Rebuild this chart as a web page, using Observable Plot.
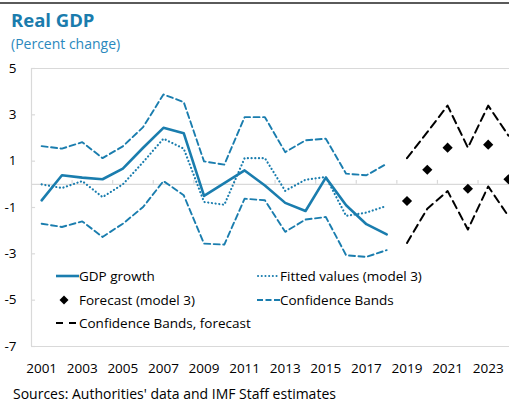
<!DOCTYPE html>
<html>
<head>
<meta charset="utf-8">
<script src="https://cdn.jsdelivr.net/npm/d3@7"></script>
<script src="https://cdn.jsdelivr.net/npm/@observablehq/plot@0.6"></script>
<style>
  html, body { margin: 0; padding: 0; background: #fff; }
  body { width: 509px; height: 402px; overflow: hidden; position: relative; font-family: "Open Sans", sans-serif; }
  .topline { position: absolute; left: 0; top: 2px; width: 509px; height: 1.5px; background: #5a5a5a; }
  .title { position: absolute; left: 11px; top: 8.5px; font-size: 18.5px; line-height: 22px; font-weight: 700; color: #1a7cad; }
  .subtitle { position: absolute; left: 11px; top: 35px; font-size: 14px; line-height: 18px; color: #2a88bd; }
  #chart { position: absolute; left: 0; top: 58px; }
  .caption { position: absolute; left: 13px; top: 387px; font-size: 14px; line-height: 14px; color: #000; white-space: nowrap; }
  .legend { position: absolute; font-size: 13.5px; color: #000; }
  .item { position: absolute; display: flex; align-items: center; height: 20px; white-space: nowrap; }
  .item svg { width: 24px; height: 20px; margin-right: 0px; }
</style>
</head>
<body>
<div class="topline"></div>
<div class="title">Real GDP</div>
<div class="subtitle">(Percent change)</div>
<div id="chart"></div>
<div class="legend" id="legend"></div>
<div class="caption">Sources: Authorities' data and IMF Staff estimates</div>
<script>
// ---- data ----
const histYears = [2001, 2002, 2003, 2004, 2005, 2006, 2007, 2008, 2009, 2010, 2011, 2012, 2013, 2014, 2015, 2016, 2017, 2018];
const gdpGrowth = [-0.69, 0.39, 0.29, 0.22, 0.68, 1.58, 2.44, 2.21, -0.5, 0.05, 0.6, -0.05, -0.8, -1.15, 0.29, -0.9, -1.72, -2.16];
const fittedValues = [0.0, -0.16, 0.14, -0.55, 0.0, 0.96, 1.97, 1.54, -0.76, -0.88, 1.13, 1.13, -0.28, 0.2, 0.32, -1.36, -1.22, -0.93];
const bandUpper = [1.65, 1.54, 1.82, 1.13, 1.64, 2.47, 3.88, 3.55, 0.99, 0.85, 2.9, 2.9, 1.39, 1.9, 1.97, 0.46, 0.39, 0.89];
const bandLower = [-1.7, -1.84, -1.6, -2.27, -1.7, -0.98, 0.14, -0.47, -2.56, -2.6, -0.62, -0.69, -2.05, -1.52, -1.41, -3.06, -3.13, -2.84];
const forecastYears = [2019, 2020, 2021, 2022, 2023, 2024];
const forecastValues = [-0.72, 0.63, 1.58, -0.19, 1.71, 0.22];
const forecastUpper = [1.13, 2.25, 3.4, 1.58, 3.4, 2.1];
const forecastLower = [-2.53, -1.05, -0.29, -1.95, -0.09, -1.38];
const xTickLabels = [2001, 2003, 2005, 2007, 2009, 2011, 2013, 2015, 2017, 2019, 2021, 2023];
const yTickLabels = [5, 3, 1, -1, -3, -5, -7];
const catBoundaries = [2002.5, 2004.5, 2006.5, 2008.5, 2010.5, 2012.5, 2014.5, 2016.5, 2018.5, 2020.5, 2022.5];
const legendItems = ["GDP growth", "Fitted values (model 3)", "Forecast (model 3)", "Confidence Bands", "Confidence Bands, forecast"];

const BLUE = "#1a7dae";
const GRID = "#d9d9d9";

const hist = histYears.map((y, i) => ({year: y, gdp: gdpGrowth[i], fit: fittedValues[i], up: bandUpper[i], lo: bandLower[i]}));
const fc = forecastYears.map((y, i) => ({year: y, v: forecastValues[i], up: forecastUpper[i], lo: forecastLower[i]}));

const chart = Plot.plot({
  width: 509,
  height: 320,
  marginLeft: 31,
  marginRight: 0,
  marginTop: 10,
  marginBottom: 32,
  style: {fontFamily: "Open Sans, sans-serif", fontSize: "13.5px", color: "#000", background: "transparent", overflow: "visible"},
  x: {domain: [2000.5, 2024.05], axis: null},
  y: {domain: [-7, 5], axis: null},
  marks: [
    Plot.ruleY([5, -7], {stroke: GRID, strokeWidth: 1.2}),
    Plot.ruleX([2000.5], {stroke: GRID, strokeWidth: 1.2}),
    Plot.ruleY(yTickLabels, {x1: 2000.5, x2: 2000.7, stroke: GRID, strokeWidth: 1.2}),
    Plot.ruleY([0], {stroke: GRID, strokeWidth: 1.2}),
    Plot.ruleX(catBoundaries, {y1: 0, y2: 0.17, stroke: GRID, strokeWidth: 1.2}),
    Plot.axisX(xTickLabels, {tickSize: 0, tickPadding: 16.5, tickFormat: d => String(d), fontSize: 13.5, fill: "#000", label: null}),
    Plot.axisY(yTickLabels, {tickSize: 0, tickPadding: 15, tickFormat: d => String(d), fontSize: 13.5, fill: "#000", label: null}),
    Plot.line(hist, {x: "year", y: "up", stroke: BLUE, strokeWidth: 1.9, strokeDasharray: "6,3.5"}),
    Plot.line(hist, {x: "year", y: "lo", stroke: BLUE, strokeWidth: 1.9, strokeDasharray: "6,3.5"}),
    Plot.line(hist, {x: "year", y: "fit", stroke: BLUE, strokeWidth: 2.2, strokeDasharray: "0.1,3.6", strokeLinecap: "round"}),
    Plot.line(hist, {x: "year", y: "gdp", stroke: BLUE, strokeWidth: 2.6}),
    Plot.line(fc, {x: "year", y: "up", stroke: "#000", strokeWidth: 2, strokeDasharray: "8,5"}),
    Plot.line(fc, {x: "year", y: "lo", stroke: "#000", strokeWidth: 2, strokeDasharray: "8,5"}),
    Plot.dot(fc, {x: "year", y: "v", symbol: "diamond2", r: 4.6, fill: "#000", stroke: "none"})
  ]
});
document.getElementById("chart").appendChild(chart);

// legend (HTML overlay inside plot area)
const swatches = [
  `<svg viewBox="0 0 24 20"><line x1="1" y1="10" x2="24" y2="10" stroke="${BLUE}" stroke-width="2.6"/></svg>`,
  `<svg viewBox="0 0 24 20"><line x1="2" y1="10" x2="24" y2="10" stroke="${BLUE}" stroke-width="2" stroke-dasharray="0.1,3.6" stroke-linecap="round"/></svg>`,
  `<svg viewBox="0 0 24 20"><path d="M9,5.5 L13.5,10 L9,14.5 L4.5,10 Z" fill="#000"/></svg>`,
  `<svg viewBox="0 0 24 20"><line x1="1" y1="10" x2="24" y2="10" stroke="${BLUE}" stroke-width="1.9" stroke-dasharray="6,2.5"/></svg>`,
  `<svg viewBox="0 0 24 20"><line x1="1" y1="10" x2="24" y2="10" stroke="#000" stroke-width="2" stroke-dasharray="7,6"/></svg>`
];
const pos = [[55, 266], [256, 266], [55, 290], [256, 290], [55, 313]];
const leg = document.getElementById("legend");
legendItems.forEach((t, i) => {
  const d = document.createElement("div");
  d.className = "item";
  d.style.left = pos[i][0] + "px";
  d.style.top = pos[i][1] + "px";
  d.innerHTML = swatches[i] + `<span>${t}</span>`;
  leg.appendChild(d);
});
</script>
</body>
</html>
